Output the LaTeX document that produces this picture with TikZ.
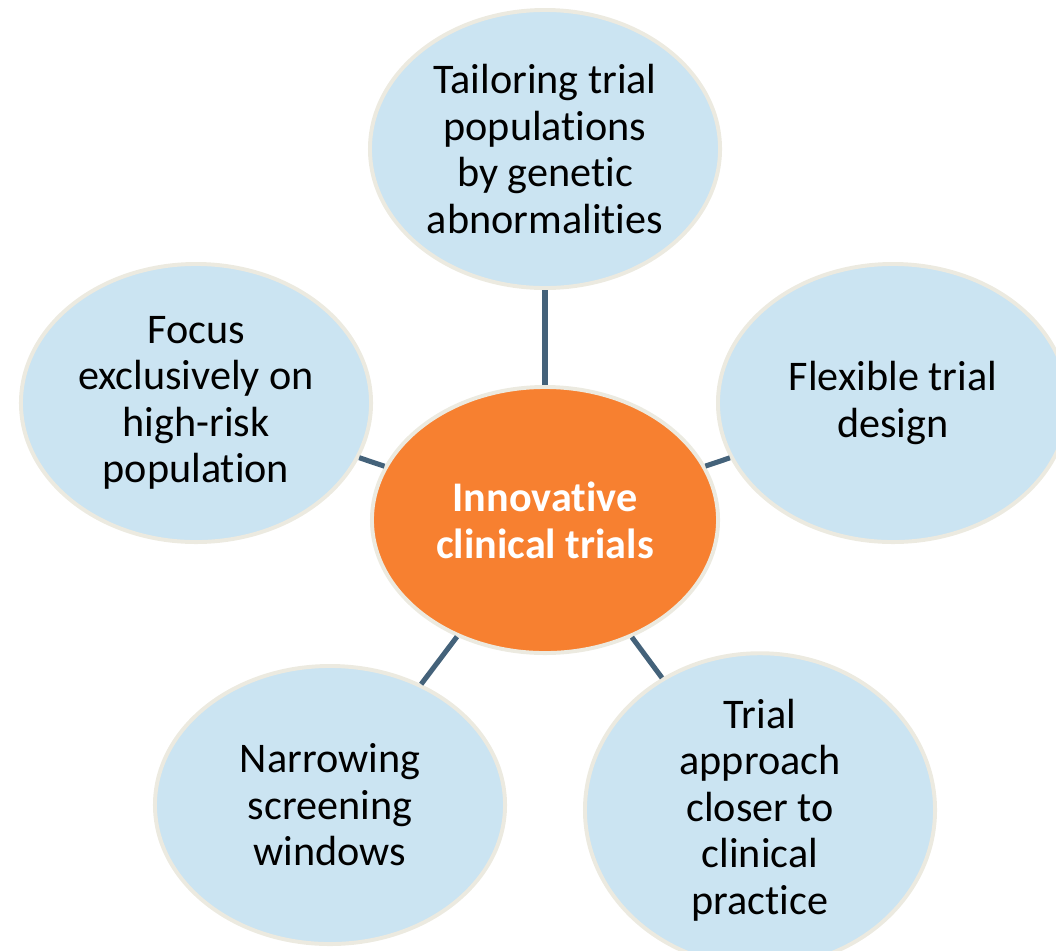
\documentclass[tikz,border=0pt]{standalone}
\usepackage{fontspec}
\setmainfont[Ligatures=NoCommon]{Carlito}
\usetikzlibrary{shapes.geometric}

\definecolor{hubfill}{RGB}{247,128,48}
\definecolor{leaffill}{RGB}{203,228,242}
\definecolor{rim}{RGB}{236,234,224}
\definecolor{spoke}{RGB}{68,98,122}

\begin{document}
\begin{tikzpicture}[
  x=0.025cm, y=-0.025cm,
  font=\fontsize{30}{33}\selectfont,
  leaf/.style={ellipse, draw=rim, line width=2.8pt, fill=leaffill, inner sep=0pt,
    minimum width=8.75cm, minimum height=6.95cm, align=center, text=black},
  hub/.style={leaf, fill=hubfill, minimum width=8.65cm, minimum height=6.65cm,
    text=white, font=\fontsize{30}{33.5}\selectfont\bfseries},
  link/.style={draw=spoke, line width=3.6pt}
]
  \useasboundingbox (0,0) rectangle (1056,950);

  \node[hub] (trials) at (545,520) {Innovative\\clinical trials};

  \node[leaf] (tailor) at (545,149) {Tailoring trial\\populations\\by genetic\\abnormalities};
  \node[leaf] (flex) at (893,403) {Flexible trial\\design};
  \node[leaf] (practice) at (760,810) {Trial\\approach\\closer to\\clinical\\practice};
  \node[leaf] (screen) at (330,805) {Narrowing\\screening\\windows};
  \node[leaf] (focus) at (196,403) {Focus\\exclusively on\\high-risk\\population};

  \foreach \n in {tailor,flex,practice,screen,focus}
    \draw[link] (trials) -- (\n);
\end{tikzpicture}
\end{document}
